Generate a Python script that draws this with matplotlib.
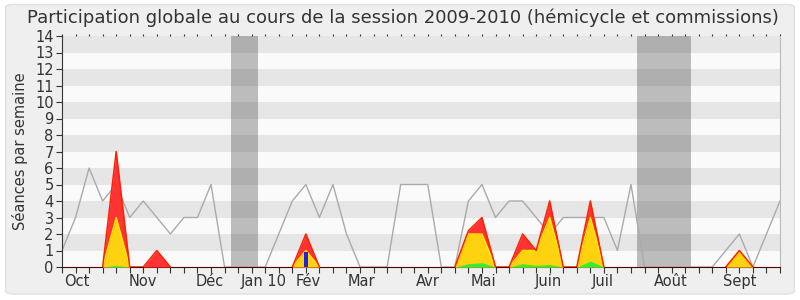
import matplotlib.pyplot as plt
from matplotlib.patches import FancyBboxPatch
import numpy as np

weeks = np.arange(54)

# total séances per week (grey line)
total = [1, 3, 6, 4, 5, 3, 4, 3, 2, 3, 3, 5, 0, 0, 0, 0, 2, 4, 5, 3,
         5, 2, 0, 0, 0, 5, 5, 5, 0, 0, 4, 5, 3, 4, 4, 3, 2, 3, 3, 3,
         3, 1, 5, 0, 0, 0, 0, 0, 0, 1, 2, 0, 2, 4]

red_pts = {4: 7, 7: 1, 18: 2, 30: 2.2, 31: 3, 34: 2, 35: 1, 36: 4, 39: 4, 50: 1}
yellow_pts = {4: 3, 18: 1, 30: 2, 31: 2, 34: 1, 35: 1, 36: 3, 39: 3, 50: 1}
green_pts = {4: 0.1, 30: 0.2, 31: 0.26, 34: 0.2, 35: 0.1, 36: 0.15, 39: 0.36}
blue_pts = {18: 0.9}

red = np.array([red_pts.get(i, 0) for i in weeks], dtype=float)
yellow = np.array([yellow_pts.get(i, 0) for i in weeks], dtype=float)
green = np.array([green_pts.get(i, 0) for i in weeks], dtype=float)
blue = np.array([blue_pts.get(i, 0) for i in weeks], dtype=float)

vacances = [(12.45, 14.5), (42.45, 46.45)]

month_labels = ['Oct', 'Nov', 'Déc', 'Jan 10', 'Fév', 'Mar', 'Avr',
                'Mai', 'Juin', 'Juil', 'Août', 'Sept']
month_pos = [1.07, 5.95, 10.9, 14.9, 18.15, 22.1, 27.0, 31.1, 35.9, 39.9, 44.95, 50.0]


def edge(v):
    # hide the outline where the series sits flat on zero
    v = np.asarray(v, dtype=float)
    nz = v > 0
    keep = nz | np.roll(nz, 1) | np.roll(nz, -1)
    return np.ma.masked_where(~keep, v)


fig = plt.figure(figsize=(8, 3), dpi=100, facecolor='white')
fig.patches.append(FancyBboxPatch((0.007, 0.02), 0.986, 0.965,
                                  boxstyle='round,pad=0,rounding_size=0.01',
                                  transform=fig.transFigure, facecolor='#efefef',
                                  edgecolor='#e0e0e0', lw=1, zorder=-10))
ax = fig.add_axes([0.0775, 0.11, 0.8975, 0.77])
ax.set_facecolor('#fafafa')

for k in range(1, 14, 2):
    ax.axhspan(k, k + 1, color='#e6e6e6', lw=0, zorder=0)

for a, b in vacances:
    ax.axvspan(a, b, color='#4a4a4a', alpha=0.35, lw=0, zorder=1)

ax.plot(weeks, total, color='#aaaaaa', lw=1, zorder=2)
ax.fill_between(weeks, red, color='#ff3333', lw=0, zorder=3)
ax.fill_between(weeks, yellow, color='#ffd20f', lw=0, zorder=4)
ax.plot(weeks, edge(yellow), color='#ffee00', lw=1, zorder=4.2)
ax.plot(weeks, edge(red), color='#ff2200', lw=1.1, zorder=4.5)
ax.fill_between(weeks, green, color='#33ee33', lw=0, zorder=5)
ax.bar(weeks, blue, width=0.32, color='#2222dd', zorder=6)

ax.set_xlim(0, 53)
ax.set_ylim(0, 14)
ax.set_yticks(range(15))
ax.tick_params(axis='y', labelsize=10.5, length=4, color='#333333', pad=2, labelcolor='#333333')
ax.xaxis.remove_overlapping_locs = False
ax.set_xticks(weeks)
ax.set_xticklabels([])
ax.tick_params(axis='x', which='major', length=4, color='#333333')
ax.set_xticks(month_pos, minor=True)
ax.set_xticklabels(month_labels, minor=True, fontsize=10.5, color='#333333')
ax.tick_params(axis='x', which='minor', length=0, pad=5)

top = ax.secondary_xaxis('top')
top.set_xticks(weeks)
top.set_xticklabels([])
top.tick_params(length=1.5, color='#333333')
top.spines['top'].set_visible(False)

ax.spines['top'].set_visible(False)
ax.spines['right'].set_color('#bbbbbb')
ax.spines['left'].set_color('#333333')
ax.spines['bottom'].set_color('#550000')

ax.set_ylabel('Séances par semaine', fontsize=10.5, color='#333333', labelpad=5)
fig.text(0.504, 0.94, 'Participation globale au cours de la session 2009-2010 (hémicycle et commissions)',
         ha='center', va='center', fontsize=13, color='#333333')

fig.savefig('out.png', dpi=100, facecolor=fig.get_facecolor())
